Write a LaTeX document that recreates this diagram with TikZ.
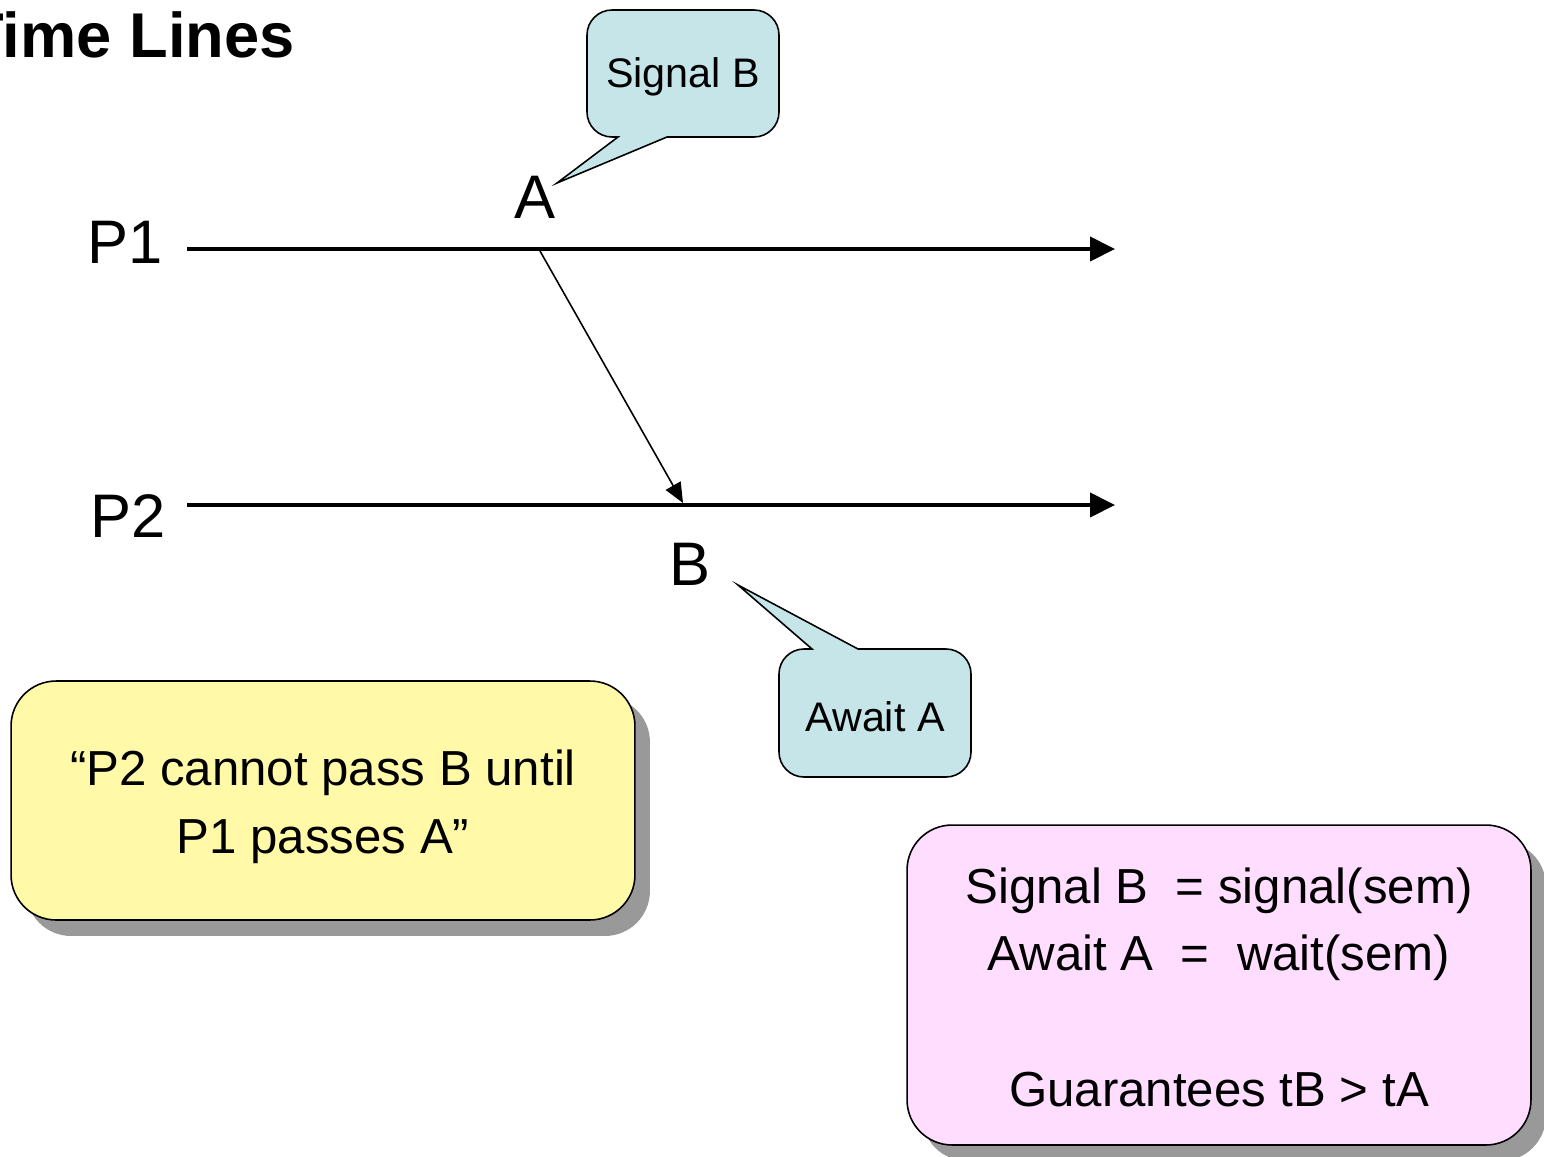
\documentclass[tikz,border=0pt]{standalone}
\usepackage{fontspec}
\setmainfont{Liberation Sans}
\usetikzlibrary{arrows.meta,shadows}
\definecolor{callblue}{HTML}{C5E5E8}
\definecolor{noteyellow}{HTML}{FFF9A8}
\definecolor{notepink}{HTML}{FFDDFF}
\definecolor{shadowgray}{HTML}{999999}
\begin{document}
\begin{tikzpicture}[x=0.02cm,y=-0.02cm,
  timeline/.style={line width=2.3pt,-{Triangle[length=5mm,width=4.8mm]}},
  msg/.style={line width=0.9pt,-{Triangle[length=4mm,width=3.4mm]}},
  callout/.style={draw=black,line width=0.9pt,fill=callblue},
  note/.style={draw=black,line width=0.9pt,rounded corners=9mm,minimum width=12.48cm,
    drop shadow={shadow xshift=0.3cm,shadow yshift=-0.32cm,fill=shadowgray,opacity=1}},
  biglabel/.style={font=\fontsize{35}{40}\selectfont,inner sep=0pt},
  calltext/.style={font=\fontsize{23.5}{28}\selectfont,inner sep=0pt},
  notetext/.style={font=\fontsize{28}{38.5}\selectfont,align=center,inner sep=0pt}]
\useasboundingbox (0,0) rectangle (1544,1156);

% title (partly cut off on the left, as in the original)
\node[anchor=base east,inner sep=0pt,font=\fontsize{36}{40}\selectfont\bfseries] (title) at (295,57) {Time Lines};

% process labels
\node[biglabel,anchor=base] (p1) at (125,263) {P1};
\node[biglabel,anchor=base] (p2) at (128,537) {P2};

% time lines
\coordinate (p1s) at (187,249);
\coordinate (p1e) at (1115,249);
\coordinate (p2s) at (187,505);
\coordinate (p2e) at (1115,505);
\draw[timeline] (p1s) -- (p1e);
\draw[timeline] (p2s) -- (p2e);

% event points
\coordinate (a) at (540,251);
\coordinate (b) at (683,503);
\draw[msg] (a) -- (b);
\node[biglabel,anchor=base] (alabel) at (535,218) {A};
\node[biglabel,anchor=base] (blabel) at (690,585) {B};

% Signal B callout
\draw[callout] (557,183) -- (667,137) [rounded corners=5mm] -- (779,137) -- (779,10) -- (587,10) -- (587,137) [sharp corners] -- (618,137) -- cycle;
\node[calltext] (sigb) at (683,77) {Signal B};

% Await A callout
\draw[callout] (738,585) -- (858,649) [rounded corners=5mm] -- (971,649) -- (971,777) -- (779,777) -- (779,649) [sharp corners] -- (812,649) -- cycle;
\node[calltext] (awaita) at (875,717) {Await A};

% notes
\node[note,fill=noteyellow,minimum height=4.78cm] (cond) at (323,800.5) {};
\node[notetext] (condtext) at (323,807) {“P2 cannot pass B until\\P1 passes A”};
\node[note,fill=notepink,minimum height=6.4cm] (impl) at (1219,985) {};
\node[notetext] (impltext) at (1219,987)
  {Signal B~~= signal(sem)\\Await A~~=~~wait(sem)\\[38.5pt]Guarantees tB > tA};
\end{tikzpicture}
\end{document}
